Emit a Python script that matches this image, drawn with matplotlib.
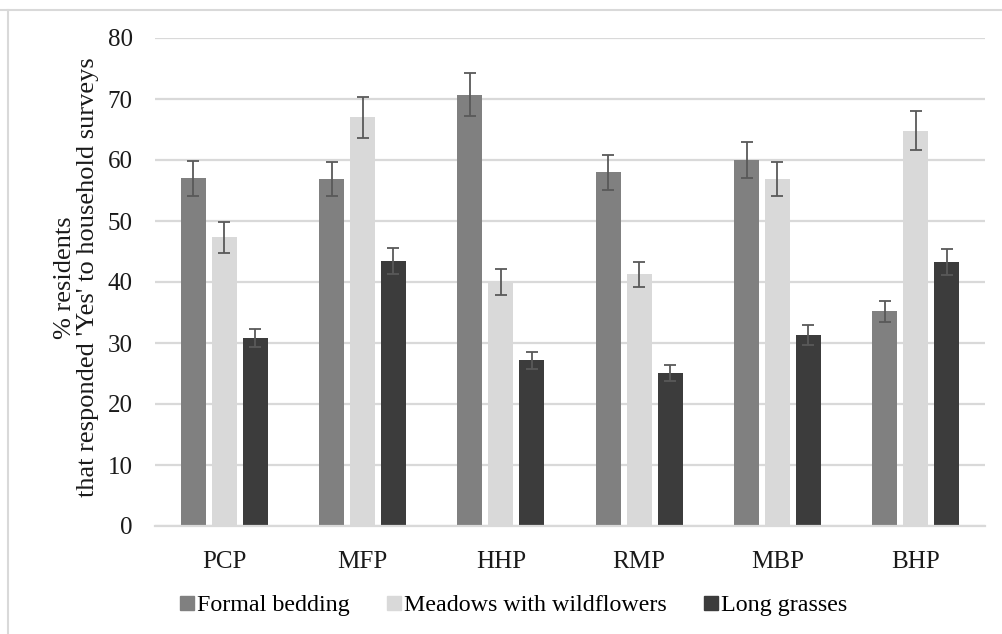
import matplotlib
matplotlib.use('Agg')
import matplotlib.pyplot as plt
from matplotlib.lines import Line2D
import numpy as np

# Data
sites = ['PCP', 'MFP', 'HHP', 'RMP', 'MBP', 'BHP']
series_names = ['Formal bedding', 'Meadows with wildflowers', 'Long grasses']
formal = [57.0, 56.9, 70.7, 58.0, 60.0, 35.2]
formal_err = [2.9, 2.8, 3.5, 2.9, 3.0, 1.75]
meadows = [47.3, 67.0, 40.0, 41.3, 56.9, 64.8]
meadows_err = [2.5, 3.4, 2.1, 2.05, 2.8, 3.2]
grasses = [30.8, 43.4, 27.2, 25.1, 31.3, 43.3]
grasses_err = [1.5, 2.1, 1.4, 1.3, 1.6, 2.1]
y_ticks = [0, 10, 20, 30, 40, 50, 60, 70, 80]

colors = ['#808080', '#d9d9d9', '#3c3c3c']
serif = 'Liberation Serif'

fig = plt.figure(figsize=(10.02, 6.34), dpi=100)
ax = fig.add_axes([155 / 1002, 108 / 634, 830 / 1002, 488 / 634])

x = np.arange(len(sites))
width = 0.18
step = 0.224
values = [formal, meadows, grasses]
errors = [formal_err, meadows_err, grasses_err]
for i, (vals, errs) in enumerate(zip(values, errors)):
    ax.bar(x + (i - 1) * step, vals, width, color=colors[i], zorder=2,
           yerr=errs, capsize=4.3,
           error_kw={'ecolor': '#595959', 'elinewidth': 1.3, 'capthick': 1.3, 'zorder': 3})

ax.set_xlim(-0.5, len(sites) - 0.5)
ax.set_ylim(0, 80)
ax.set_yticks(y_ticks)
ax.set_xticks(x)
ax.set_xticklabels(sites)
ax.grid(axis='y', color='#d9d9d9', linewidth=1.6, zorder=0)
ax.set_axisbelow(True)
for s in ['top', 'right', 'left']:
    ax.spines[s].set_visible(False)
ax.spines['bottom'].set_color('#d9d9d9')
ax.spines['bottom'].set_linewidth(1.6)
ax.tick_params(axis='both', length=0, labelsize=18)
ax.tick_params(axis='y', pad=16)
ax.tick_params(axis='x', pad=18)
for lab in ax.get_xticklabels() + ax.get_yticklabels():
    lab.set_fontfamily(serif)
    lab.set_color('#1a1a1a')

ax.set_ylabel("% residents\nthat responded 'Yes' to household surveys",
              fontsize=19, fontfamily=serif, color='#1a1a1a', linespacing=1.05)
ax.yaxis.set_label_coords((99 - 155) / 830, 0.509)

handles = [Line2D([], [], marker='s', linestyle='none', markersize=9.5,
                  markerfacecolor=c, markeredgecolor=c) for c in colors]
fig.legend(handles, series_names, loc='center left',
           bbox_to_anchor=(170 / 1002, 1 - 605 / 634), ncol=3, frameon=False,
           prop={'family': serif, 'size': 17.3}, handlelength=0.6,
           handletextpad=0.12, columnspacing=1.55, borderaxespad=0)

# light chart-area border (top and left edges visible)
fig.add_artist(Line2D([0, 1], [1 - 9.5 / 634, 1 - 9.5 / 634], color='#d9d9d9',
                      linewidth=1.5, transform=fig.transFigure))
fig.add_artist(Line2D([7.5 / 1002, 7.5 / 1002], [0, 1 - 9.5 / 634], color='#d9d9d9',
                      linewidth=1.5, transform=fig.transFigure))

fig.savefig('out.png', dpi=100)
